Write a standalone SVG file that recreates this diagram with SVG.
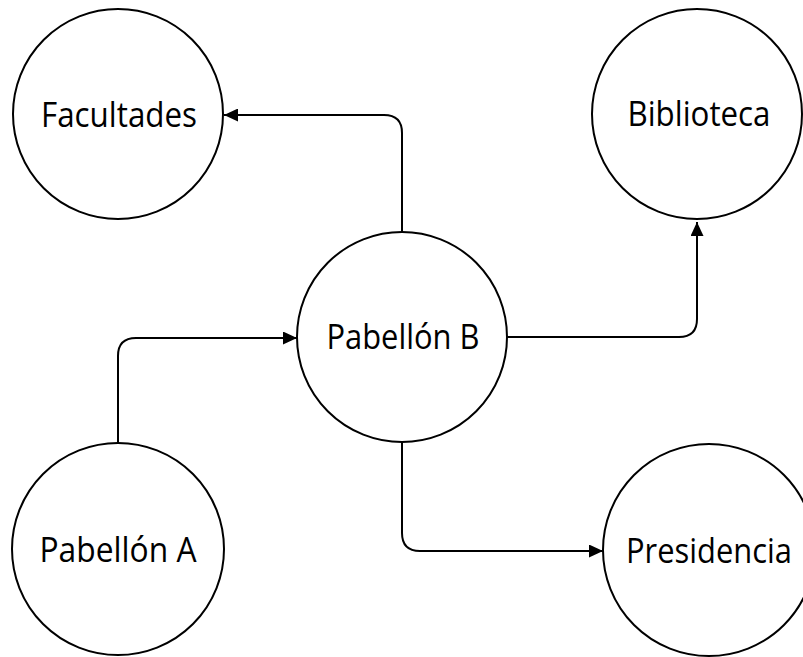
<svg xmlns="http://www.w3.org/2000/svg" width="803" height="657" viewBox="0 0 803 657">
  <style>
    .node circle { fill: #ffffff; stroke: #000000; stroke-width: 2; }
    .node text { font-family: "Open Sans", "Liberation Sans", sans-serif; font-size: 34px; fill: #000000; text-anchor: middle; }
    .edge { fill: none; stroke: #000000; stroke-width: 2; marker-end: url(#arrow); }
  </style>
  <defs>
    <marker id="arrow" viewBox="0 0 14 13" refX="14" refY="6.5" markerWidth="14" markerHeight="13" markerUnits="userSpaceOnUse" orient="auto">
      <path d="M0,0 L14,6.5 L0,13 Z" fill="#000000"/>
    </marker>
  </defs>

  <g id="connectors">
    <!-- Pabellón A -> Pabellón B -->
    <path class="edge" d="M118,443 V356 Q118,338 136,338 H297"/>
    <!-- Pabellón B -> Facultades -->
    <path class="edge" d="M402,232 V133 Q402,115 384,115 H224"/>
    <!-- Pabellón B -> Biblioteca -->
    <path class="edge" d="M507,337 H679 Q697,337 697,319 V222"/>
    <!-- Pabellón B -> Presidencia -->
    <path class="edge" d="M402,443 V533 Q402,551 420,551 H603"/>
  </g>

  <g id="facultades" class="node">
    <circle cx="118" cy="114" r="105"/>
    <text x="119" y="127" textLength="156" lengthAdjust="spacingAndGlyphs">Facultades</text>
  </g>

  <g id="biblioteca" class="node">
    <circle cx="697" cy="114" r="105"/>
    <text x="699" y="126" textLength="143" lengthAdjust="spacingAndGlyphs">Biblioteca</text>
  </g>

  <g id="pabellon-b" class="node">
    <circle cx="402" cy="337" r="105"/>
    <text x="403" y="349" textLength="153" lengthAdjust="spacingAndGlyphs">Pabellón B</text>
  </g>

  <g id="pabellon-a" class="node">
    <circle cx="118" cy="549" r="106"/>
    <text x="118" y="562" textLength="157" lengthAdjust="spacingAndGlyphs">Pabellón A</text>
  </g>

  <g id="presidencia" class="node">
    <circle cx="709" cy="550" r="106"/>
    <text x="709" y="563" textLength="166" lengthAdjust="spacingAndGlyphs">Presidencia</text>
  </g>
</svg>
